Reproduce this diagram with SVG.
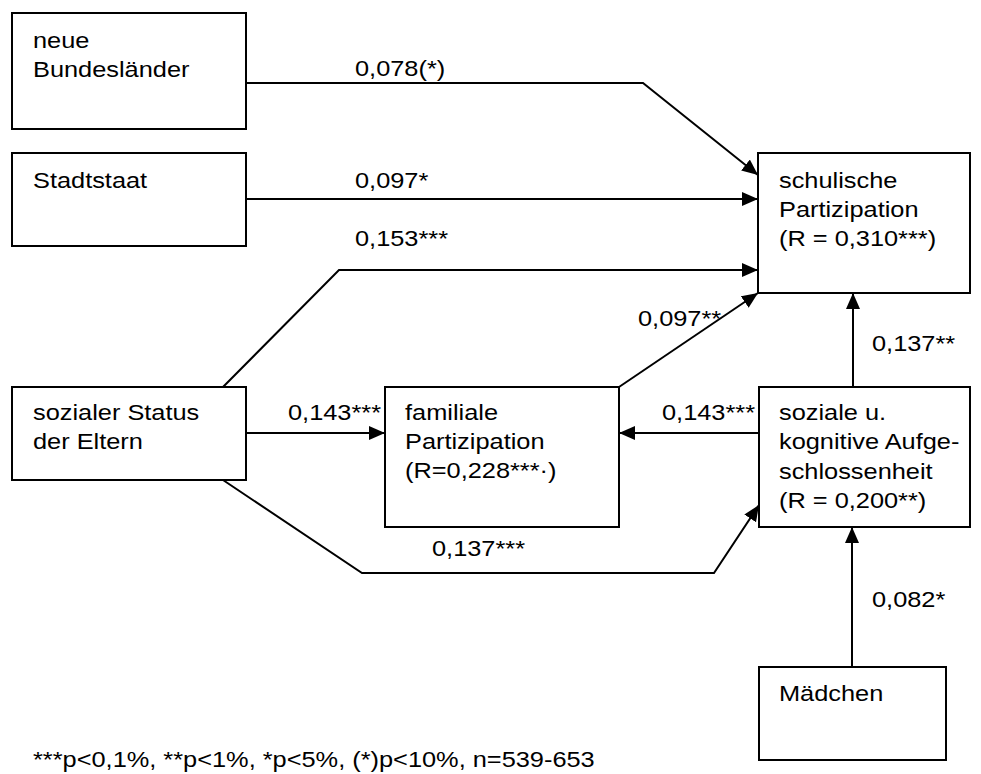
<svg xmlns="http://www.w3.org/2000/svg" width="981" height="774" viewBox="0 0 981 774">
<style>
.box{fill:#fff;stroke:#000;stroke-width:2}
.t{font-family:"Liberation Sans",Arial,sans-serif;font-size:21.5px;fill:#000;transform-box:fill-box;transform-origin:0 0;transform:scaleX(1.18)}
.c{fill:none;stroke:#000;stroke-width:2}
</style>
<defs>
<marker id="ah" markerUnits="userSpaceOnUse" markerWidth="18" markerHeight="16" refX="16" refY="7" orient="auto">
<path d="M0,0 L16,7 L0,14 z" fill="#000"/>
</marker>
</defs>
<rect width="981" height="774" fill="#fff"/>
<g id="connectors">
<path class="c" d="M246,83 L643,83 L758,175" marker-end="url(#ah)"/>
<path class="c" d="M246,199 L758,199" marker-end="url(#ah)"/>
<path class="c" d="M223,387 L339,270 L758,270" marker-end="url(#ah)"/>
<path class="c" d="M619,387 L758,293" marker-end="url(#ah)"/>
<path class="c" d="M246,433 L385,433" marker-end="url(#ah)"/>
<path class="c" d="M759,433 L619,433" marker-end="url(#ah)"/>
<path class="c" d="M223,480 L362,573 L714,573 L759,505" marker-end="url(#ah)"/>
<path class="c" d="M853,387 L853,293" marker-end="url(#ah)"/>
<path class="c" d="M852,667 L852,527" marker-end="url(#ah)"/>
<text class="t" x="355" y="76">0,078(*)</text>
<text class="t" x="355" y="188">0,097*</text>
<text class="t" x="355" y="246">0,153***</text>
<text class="t" x="638" y="326">0,097**</text>
<text class="t" x="872" y="351">0,137**</text>
<text class="t" x="288" y="420">0,143***</text>
<text class="t" x="662" y="420">0,143***</text>
<text class="t" x="432" y="556">0,137***</text>
<text class="t" x="872" y="607">0,082*</text>
</g>
<g id="neue-bundeslaender">
<rect class="box" x="12" y="13" width="234" height="116"/>
<text class="t" x="33" y="48">neue</text>
<text class="t" x="33" y="77">Bundesländer</text>
</g>
<g id="stadtstaat">
<rect class="box" x="12" y="153" width="234" height="93"/>
<text class="t" x="33" y="188">Stadtstaat</text>
</g>
<g id="schulische-partizipation">
<rect class="box" x="758" y="153" width="212" height="140"/>
<text class="t" x="779" y="188">schulische</text>
<text class="t" x="779" y="217">Partizipation</text>
<text class="t" x="779" y="246">(R = 0,310***)</text>
</g>
<g id="sozialer-status">
<rect class="box" x="12" y="387" width="234" height="93"/>
<text class="t" x="33" y="420">sozialer Status</text>
<text class="t" x="33" y="449">der Eltern</text>
</g>
<g id="familiale-partizipation">
<rect class="box" x="385" y="387" width="234" height="140"/>
<text class="t" x="405" y="420">familiale</text>
<text class="t" x="405" y="449">Partizipation</text>
<text class="t" x="405" y="478">(R=0,228***·)</text>
</g>
<g id="soziale-aufgeschlossenheit">
<rect class="box" x="759" y="387" width="211" height="140"/>
<text class="t" x="779" y="420">soziale u.</text>
<text class="t" x="779" y="449">kognitive Aufge-</text>
<text class="t" x="779" y="479">schlossenheit</text>
<text class="t" x="779" y="508">(R = 0,200**)</text>
</g>
<g id="maedchen">
<rect class="box" x="759" y="667" width="187" height="93"/>
<text class="t" x="779" y="701">Mädchen</text>
</g>
<text class="t" x="33" y="767">***p&lt;0,1%, **p&lt;1%, *p&lt;5%, (*)p&lt;10%, n=539-653</text>
</svg>
